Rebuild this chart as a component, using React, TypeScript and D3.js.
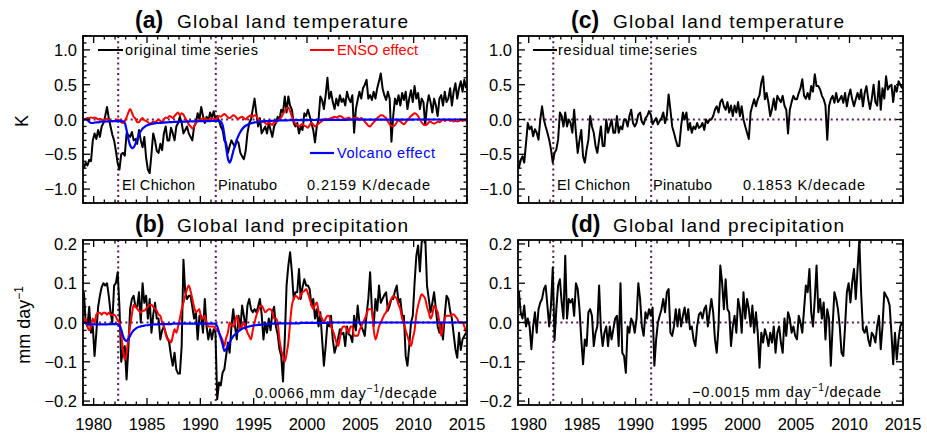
import React from "react";
import * as d3 from "d3";

// monthly-ish samples: 6 per year, 1979..2014
const startYear = 1979;
const perYear = 6;

// (a) original land temperature anomaly, K
const tempOrig = [
  -0.70, -0.62, -0.66, -0.58, -0.60, -0.30,
  -0.20, -0.28, -0.15, -0.25, -0.10, -0.05,
  0.05, 0.18, 0.02, -0.10, -0.22, -0.30,
  -0.45, -0.63, -0.72, -0.50, -0.48, -0.52,
  -0.20, -0.22, -0.25, -0.18, -0.30, -0.28,
  -0.35, -0.15, -0.30, -0.40, -0.25, -0.55,
  -0.72, -0.77, -0.50, -0.20, -0.30, -0.45,
  -0.48, -0.35, -0.44, -0.20, -0.10, -0.30,
  -0.30, -0.12, -0.20, -0.30, -0.10, -0.05,
  0.04, -0.05, -0.20, -0.15, -0.10, -0.20,
  -0.25, -0.30, -0.10, -0.05, 0.09, 0.00,
  0.18, 0.05, -0.05, 0.04, -0.02, 0.10,
  0.02, 0.12, 0.00, 0.05, -0.02, -0.10,
  -0.15, -0.30, -0.34, -0.48, -0.38, -0.30,
  -0.35, -0.39, -0.30, -0.34, -0.48, -0.53,
  -0.57, -0.45, -0.20, -0.05, 0.00, 0.15,
  0.30, 0.09, -0.10, 0.02, -0.20, -0.15,
  -0.10, -0.20, -0.05, -0.15, -0.25, -0.10,
  -0.05, 0.04, 0.00, 0.14, 0.10, 0.33,
  0.10, 0.33, 0.20, 0.14, -0.05, -0.10,
  -0.05, -0.20, -0.10, -0.15, 0.09, 0.05,
  0.14, 0.05, -0.05, -0.15, -0.33, -0.10,
  0.00, 0.33, 0.28, 0.15, 0.35, 0.60,
  0.30, 0.40, 0.25, 0.15, 0.30, 0.20,
  0.35, 0.25, 0.30, 0.20, 0.40, 0.30,
  0.25, 0.35, -0.19, 0.15, 0.28, 0.40,
  0.30, 0.45, 0.50, 0.57, 0.30, 0.35,
  0.28, 0.40, 0.30, 0.45, 0.55, 0.66,
  0.45, 0.35, 0.28, 0.40, 0.30, -0.32,
  0.05, 0.30, 0.22, 0.35, 0.20, 0.38,
  0.28, 0.40, 0.15, 0.30, 0.42, 0.25,
  0.48, 0.30, 0.38, 0.15, 0.30, 0.25,
  -0.08, 0.20, 0.35, 0.25, 0.10, 0.30,
  0.20, 0.05, 0.30, 0.35, 0.20, 0.40,
  0.25, 0.30, 0.45, 0.20, 0.40, 0.52,
  0.30, 0.45, 0.55, 0.40, 0.57, 0.45,
];

// (a) ENSO effect on temperature
const tempEnso = [
  0.00, 0.01, 0.02, 0.02, 0.03, 0.02,
  0.03, 0.02, 0.00, 0.01, 0.00, -0.01,
  0.00, 0.01, 0.00, -0.02, -0.03, -0.02,
  -0.02, 0.00, -0.01, -0.04, -0.05, -0.02,
  0.03, 0.10, 0.15, 0.10, 0.04, 0.01,
  -0.04, -0.04, 0.00, 0.02, -0.01, -0.02,
  -0.04, -0.06, -0.05, -0.03, -0.04, -0.02,
  0.00, -0.02, -0.04, 0.00, 0.03, 0.02,
  0.05, 0.04, 0.02, 0.05, 0.08, 0.10,
  0.06, 0.09, 0.07, 0.02, -0.02, -0.07,
  -0.10, -0.13, -0.10, -0.05, -0.03, -0.01,
  0.00, 0.02, 0.01, 0.00, -0.01, 0.01,
  0.02, 0.01, 0.00, 0.02, 0.05, 0.04,
  0.06, 0.08, 0.06, 0.03, 0.02, 0.04,
  0.06, 0.05, 0.02, 0.01, 0.03, 0.04,
  0.02, 0.00, 0.03, 0.05, 0.06, 0.04,
  0.06, 0.05, 0.01, -0.02, -0.04, -0.02,
  -0.05, -0.07, -0.04, -0.06, -0.08, -0.03,
  -0.04, -0.02, 0.00, 0.03, 0.08, 0.12,
  0.16, 0.17, 0.12, 0.04, -0.02, -0.06,
  -0.08, -0.10, -0.08, -0.06, -0.09, -0.10,
  -0.12, -0.08, -0.05, -0.07, -0.10, -0.08,
  -0.06, -0.04, -0.02, 0.00, 0.01, 0.00,
  0.01, 0.02, 0.03, 0.04, 0.03, 0.04,
  0.05, 0.04, 0.02, 0.01, 0.02, 0.03,
  0.01, 0.00, 0.02, 0.03, 0.02, 0.00,
  0.02, 0.00, -0.03, -0.06, -0.09, -0.10,
  -0.07, -0.04, -0.01, 0.02, 0.04, 0.06,
  0.06, 0.04, 0.02, -0.03, -0.07, -0.09,
  -0.10, -0.08, -0.04, -0.01, -0.03, -0.05,
  -0.07, -0.04, -0.01, 0.02, 0.05, 0.07,
  0.09, 0.08, 0.05, 0.00, -0.04, -0.07,
  -0.08, -0.07, -0.04, -0.03, -0.05, -0.06,
  -0.05, -0.03, -0.04, -0.02, 0.00, -0.02,
  -0.01, 0.00, -0.02, -0.01, -0.03, -0.02,
  -0.03, -0.02, -0.01, -0.02, -0.01, -0.02,
];

// (a) volcanic effect on temperature
const tempVolc = [
  0.00, 0.00, -0.01, -0.03, -0.05, -0.05,
  -0.045, -0.04, -0.04, -0.035, -0.03, -0.03,
  -0.03, -0.028, -0.026, -0.025, -0.024, -0.023,
  -0.022, -0.022, -0.022, -0.022, -0.025, -0.05,
  -0.15, -0.28, -0.37, -0.41, -0.40, -0.35,
  -0.28, -0.22, -0.17, -0.13, -0.11, -0.09,
  -0.08, -0.07, -0.065, -0.06, -0.055, -0.05,
  -0.05, -0.048, -0.046, -0.044, -0.042, -0.04,
  -0.039, -0.038, -0.036, -0.035, -0.034, -0.033,
  -0.032, -0.031, -0.03, -0.03, -0.029, -0.028,
  -0.028, -0.027, -0.026, -0.026, -0.025, -0.025,
  -0.024, -0.024, -0.023, -0.023, -0.022, -0.022,
  -0.021, -0.021, -0.02, -0.02, -0.02, -0.03,
  -0.08, -0.22, -0.40, -0.56, -0.62, -0.56,
  -0.46, -0.37, -0.29, -0.23, -0.18, -0.14,
  -0.11, -0.09, -0.075, -0.065, -0.055, -0.048,
  -0.042, -0.038, -0.034, -0.031, -0.028, -0.026,
  -0.024, -0.022, -0.02, -0.019, -0.018, -0.017,
  -0.016, -0.015, -0.014, -0.013, -0.013, -0.012,
  -0.012, -0.011, -0.011, -0.01, -0.01, -0.01,
  -0.009, -0.009, -0.009, -0.008, -0.008, -0.008,
  -0.008, -0.007, -0.007, -0.007, -0.007, -0.006,
  -0.006, -0.006, -0.006, -0.006, -0.005, -0.005,
  -0.005, -0.005, -0.005, -0.005, -0.004, -0.004,
  -0.004, -0.004, -0.004, -0.004, -0.004, -0.003,
  -0.003, -0.003, -0.003, -0.003, -0.003, -0.003,
  -0.003, -0.003, -0.002, -0.002, -0.002, -0.002,
  -0.002, -0.002, -0.002, -0.002, -0.002, -0.002,
  -0.002, -0.002, -0.001, -0.001, -0.001, -0.001,
  -0.001, -0.001, -0.001, -0.001, -0.001, -0.001,
  -0.001, -0.001, -0.001, -0.001, -0.001, -0.001,
  0.000, 0.000, 0.000, 0.000, 0.000, 0.000,
  0.000, 0.000, 0.000, 0.000, 0.000, 0.000,
  0.000, 0.000, 0.000, 0.000, 0.000, 0.000,
  0.000, 0.000, 0.000, 0.000, 0.000, 0.000,
  0.000, 0.000, 0.000, 0.000, 0.000, 0.000,
];

// (c) residual land temperature
const tempResid = [
  -0.70, -0.58, -0.53, -0.62, -0.34, -0.05,
  -0.14, -0.10, -0.24, -0.14, -0.19, -0.29,
  0.00, 0.19, 0.00, -0.10, -0.19, -0.29,
  -0.43, -0.62, -0.48, -0.43, -0.29, 0.10,
  0.05, -0.10, 0.10, -0.10, 0.00, -0.05,
  -0.19, 0.14, -0.19, -0.48, -0.30, -0.15,
  -0.53, -0.62, -0.43, -0.29, 0.05, -0.10,
  -0.19, -0.38, -0.48, -0.29, -0.10, -0.38,
  -0.38, 0.00, -0.19, -0.10, 0.00, -0.19,
  -0.19, 0.05, -0.19, -0.10, -0.14, 0.00,
  0.00, -0.10, 0.05, 0.14, -0.05, -0.10,
  -0.05, 0.07, 0.10, -0.03, -0.07, 0.02,
  0.05, 0.12, 0.07, -0.07, -0.02, 0.02,
  -0.07, -0.02, 0.02, 0.10, -0.05, 0.05,
  0.36, 0.14, -0.10, -0.19, -0.29, -0.38,
  -0.38, -0.10, 0.10, 0.00, 0.10, -0.15,
  -0.05, -0.19, -0.10, -0.14, -0.05, -0.12,
  -0.10, -0.05, -0.15, 0.00, -0.05, 0.00,
  0.00, 0.05, 0.14, 0.19, 0.10, 0.25,
  0.29, 0.19, 0.14, 0.25, 0.10, 0.20,
  0.05, 0.20, 0.10, 0.25, 0.05, 0.19,
  0.00, -0.10, -0.19, -0.28, 0.10, 0.20,
  0.29, 0.19, 0.29, 0.35, 0.53, 0.62,
  0.29, 0.38, 0.24, 0.05, 0.15, 0.30,
  0.14, 0.34, 0.29, 0.25, 0.34, 0.20,
  0.14, -0.20, 0.14, 0.25, 0.34, 0.29,
  0.29, 0.38, 0.45, 0.58, 0.34, 0.30,
  0.38, 0.29, 0.48, 0.40, 0.65, 0.48,
  0.48, 0.43, 0.34, 0.29, 0.20, -0.29,
  0.19, 0.29, 0.34, 0.24, 0.38, 0.25,
  0.29, 0.34, 0.24, 0.38, 0.19, 0.34,
  0.43, 0.29, 0.19, 0.29, 0.38, 0.29,
  0.43, 0.19, 0.38, 0.48, 0.29, 0.15,
  0.30, 0.50, 0.25, 0.20, 0.55, 0.14,
  0.45, 0.30, 0.62, 0.43, 0.48, 0.50,
  0.25, 0.48, 0.40, 0.55, 0.50, 0.45,
];

// (b) original land precipitation anomaly, mm/day
const precOrig = [
  0.077, 0.000, -0.010, 0.040, -0.026, -0.010,
  -0.085, -0.026, 0.040, 0.068, 0.090, 0.100,
  0.094, 0.100, 0.068, 0.026, 0.000, 0.094,
  0.100, 0.128, 0.040, -0.100, -0.068, -0.060,
  -0.145, -0.068, 0.034, 0.060, 0.068, 0.040,
  0.040, 0.077, 0.000, 0.100, 0.050, 0.068,
  0.010, 0.060, -0.026, 0.020, 0.050, 0.010,
  0.010, -0.043, -0.020, -0.010, -0.026, -0.040,
  -0.051, -0.085, -0.110, -0.077, -0.120, -0.130,
  -0.130, -0.060, 0.160, 0.077, 0.060, 0.068,
  0.068, 0.040, 0.010, 0.026, -0.043, 0.017,
  0.017, -0.026, 0.060, -0.010, -0.043, -0.017,
  -0.043, -0.017, -0.026, -0.195, -0.153, -0.160,
  -0.128, -0.119, -0.085, -0.051, -0.077, -0.010,
  0.034, -0.010, -0.043, 0.017, -0.017, 0.043,
  0.017, -0.017, 0.043, 0.060, 0.034, 0.026,
  0.034, 0.026, 0.040, 0.060, 0.020, -0.043,
  0.000, -0.026, 0.010, -0.020, 0.026, 0.040,
  -0.010, -0.030, -0.068, -0.085, -0.150, -0.043,
  0.094, 0.145, 0.179, 0.128, 0.060, 0.077,
  0.077, 0.136, 0.060, 0.090, 0.110, 0.094,
  0.094, 0.085, 0.043, 0.060, 0.010, 0.034,
  -0.010, 0.026, -0.043, -0.110, -0.060, 0.000,
  -0.010, 0.017, -0.043, -0.077, -0.060, -0.040,
  -0.017, -0.030, -0.026, -0.060, -0.010, -0.030,
  -0.034, -0.050, 0.017, -0.020, 0.043, 0.000,
  -0.010, -0.020, -0.034, 0.020, 0.060, 0.128,
  0.034, -0.010, 0.060, 0.030, 0.094, 0.050,
  0.060, 0.070, 0.077, 0.030, 0.043, 0.060,
  0.060, 0.080, 0.094, 0.050, 0.060, 0.017,
  0.017, -0.085, -0.110, -0.060, 0.000, 0.017,
  0.100, 0.170, 0.196, 0.130, 0.204, 0.215,
  0.220, 0.094, 0.060, 0.026, 0.050, 0.077,
  0.034, -0.010, -0.026, 0.000, -0.043, 0.020,
  0.068, 0.060, 0.030, 0.010, -0.030, -0.068,
  -0.090, -0.026, -0.070, -0.043, -0.034, -0.026,
];

// (b) ENSO effect on precipitation
const precEnso = [
  0.000, 0.010, -0.010, -0.020, -0.010, 0.010,
  0.000, 0.020, 0.025, 0.025, 0.020, 0.025,
  0.025, 0.020, 0.025, 0.020, 0.020, 0.020,
  0.015, 0.005, 0.000, -0.030, -0.070, -0.095,
  -0.080, -0.040, -0.010, 0.020, 0.045, 0.040,
  0.035, 0.030, 0.025, 0.030, 0.030, 0.035,
  0.040, 0.045, 0.045, 0.040, 0.034, 0.030,
  0.020, 0.017, 0.000, -0.010, -0.030, -0.043,
  -0.045, -0.051, -0.035, -0.017, -0.026, -0.010,
  0.010, 0.034, 0.050, 0.068, 0.085, 0.094,
  0.080, 0.060, 0.040, 0.026, 0.030, 0.034,
  0.010, 0.010, 0.017, 0.000, -0.010, -0.010,
  -0.010, -0.010, -0.015, -0.020, -0.026, -0.035,
  -0.045, -0.060, -0.040, -0.026, 0.000, -0.005,
  -0.010, 0.000, 0.017, 0.000, -0.017, -0.010,
  0.000, -0.010, -0.026, -0.035, -0.043, -0.020,
  0.000, 0.017, 0.030, 0.040, 0.043, 0.035,
  0.026, 0.030, 0.034, 0.034, 0.025, 0.010,
  0.010, 0.000, -0.043, -0.070, -0.085, -0.100,
  -0.080, -0.051, 0.000, 0.043, 0.060, 0.068,
  0.065, 0.060, 0.070, 0.077, 0.080, 0.085,
  0.075, 0.060, 0.045, 0.034, 0.045, 0.051,
  0.030, 0.017, 0.010, 0.000, 0.010, 0.017,
  0.017, -0.010, -0.020, -0.034, -0.050, -0.060,
  -0.040, -0.017, -0.010, -0.010, -0.020, -0.026,
  -0.010, -0.010, -0.034, -0.034, -0.034, -0.020,
  -0.010, 0.000, 0.010, 0.020, 0.034, 0.034,
  0.034, -0.017, -0.043, -0.030, -0.010, 0.000,
  0.010, 0.020, 0.026, 0.040, 0.051, 0.060,
  0.068, 0.065, 0.060, 0.045, 0.034, 0.010,
  0.000, -0.020, -0.034, -0.050, -0.060, -0.040,
  -0.020, 0.020, 0.043, 0.060, 0.072, 0.068,
  0.060, 0.040, 0.026, 0.010, 0.020, 0.043,
  0.035, 0.026, 0.000, -0.034, -0.010, 0.010,
  0.017, 0.017, 0.017, 0.020, 0.021, 0.015,
  0.010, 0.000, 0.000, 0.000, -0.010, -0.026,
];

// (b) volcanic effect on precipitation
const precVolc = [
  0.000, -0.002, -0.004, -0.005, -0.005, -0.005,
  -0.005, -0.005, -0.005, -0.005, -0.005, -0.005,
  -0.005, -0.005, -0.004, -0.004, -0.004, -0.004,
  -0.004, -0.004, -0.008, -0.018, -0.034, -0.044,
  -0.047, -0.042, -0.034, -0.026, -0.020, -0.016,
  -0.013, -0.011, -0.010, -0.009, -0.008, -0.007,
  -0.007, -0.006, -0.006, -0.005, -0.005, -0.005,
  -0.005, -0.004, -0.004, -0.004, -0.004, -0.004,
  -0.004, -0.004, -0.003, -0.003, -0.003, -0.003,
  -0.003, -0.003, -0.003, -0.003, -0.003, -0.003,
  -0.003, -0.003, -0.003, -0.003, -0.003, -0.003,
  -0.003, -0.003, -0.003, -0.003, -0.003, -0.003,
  -0.003, -0.003, -0.003, -0.010, -0.025, -0.040,
  -0.055, -0.072, -0.068, -0.060, -0.051, -0.042,
  -0.035, -0.030, -0.026, -0.022, -0.019, -0.016,
  -0.014, -0.013, -0.011, -0.010, -0.009, -0.008,
  -0.007, -0.007, -0.006, -0.006, -0.005, -0.005,
  -0.004, -0.004, -0.004, -0.003, -0.003, -0.003,
  -0.003, -0.003, -0.002, -0.002, -0.002, -0.002,
  -0.002, -0.002, -0.002, -0.002, -0.002, -0.002,
  -0.002, -0.002, -0.001, -0.001, -0.001, -0.001,
  -0.001, -0.001, -0.001, -0.001, -0.001, -0.001,
  -0.001, -0.001, -0.001, -0.001, -0.001, -0.001,
  0.000, 0.000, 0.000, 0.000, 0.000, 0.000,
  0.000, 0.000, 0.000, 0.000, 0.000, 0.000,
  0.000, 0.000, 0.000, 0.000, 0.000, 0.000,
  0.000, 0.000, 0.000, 0.000, 0.000, 0.000,
  0.000, 0.000, 0.000, 0.000, 0.000, 0.000,
  0.000, 0.000, 0.000, 0.000, 0.000, 0.000,
  0.000, 0.000, 0.000, 0.000, 0.000, 0.000,
  0.000, 0.000, 0.000, 0.000, 0.000, 0.000,
  0.000, 0.000, 0.000, 0.000, 0.000, 0.000,
  0.000, 0.000, 0.000, 0.000, 0.000, 0.000,
  0.000, 0.000, 0.000, 0.000, 0.000, 0.000,
  0.000, 0.000, 0.000, 0.000, 0.000, 0.000,
  0.000, 0.000, 0.000, 0.000, 0.000, 0.000,
];

// (d) residual land precipitation
const precResid = [
  0.080, 0.026, 0.010, 0.043, -0.010, 0.010,
  -0.010, -0.068, -0.010, 0.026, -0.026, 0.034,
  0.051, 0.060, 0.085, 0.094, 0.043, -0.010,
  0.043, 0.140, -0.045, 0.034, 0.094, 0.110,
  0.051, 0.010, 0.170, 0.010, 0.060, 0.051,
  0.060, 0.017, 0.100, 0.085, 0.034, -0.043,
  -0.106, -0.043, -0.060, 0.026, 0.034, 0.017,
  -0.060, -0.026, -0.010, 0.094, -0.017, -0.060,
  -0.026, -0.010, -0.060, -0.010, -0.043, -0.017,
  0.010, 0.017, -0.060, 0.100, -0.077, -0.085,
  -0.128, -0.010, -0.026, 0.010, 0.000, -0.026,
  0.010, 0.100, 0.060, -0.010, -0.034, 0.026,
  0.010, 0.034, 0.017, 0.038, -0.110, -0.043,
  0.000, 0.017, 0.034, 0.060, 0.026, 0.077,
  0.085, -0.026, -0.034, -0.010, 0.034, -0.010,
  0.034, -0.010, 0.017, 0.038, 0.000, 0.034,
  -0.017, -0.010, -0.043, -0.060, -0.010, 0.020,
  0.026, 0.010, 0.034, 0.043, -0.010, 0.026,
  0.060, 0.026, -0.043, -0.077, -0.010, 0.145,
  0.102, 0.034, 0.110, 0.034, 0.026, -0.060,
  -0.010, 0.017, -0.026, 0.060, 0.034, -0.026,
  0.077, 0.010, 0.060, 0.034, -0.010, 0.043,
  -0.026, 0.026, -0.026, -0.115, -0.026, -0.051,
  -0.017, -0.034, -0.060, -0.026, -0.051, -0.010,
  -0.077, -0.026, -0.010, -0.051, -0.077, 0.010,
  -0.034, 0.026, 0.010, -0.026, -0.010, -0.034,
  -0.043, 0.017, 0.000, -0.026, 0.034, 0.094,
  0.077, 0.136, 0.026, -0.010, 0.060, 0.145,
  0.026, 0.060, 0.010, 0.051, -0.043, 0.034,
  0.010, -0.110, -0.010, 0.077, 0.060, 0.034,
  -0.010, -0.077, -0.085, -0.010, 0.077, 0.100,
  0.051, 0.102, 0.136, 0.060, 0.136, 0.210,
  0.077, -0.017, -0.026, -0.010, -0.043, -0.060,
  -0.026, -0.034, -0.051, -0.010, 0.017, -0.068,
  -0.010, 0.077, 0.068, 0.060, 0.043, -0.026,
  -0.106, -0.026, -0.094, -0.043, -0.010, 0.000,
];

const yearTicks = [1980, 1985, 1990, 1995, 2000, 2005, 2010, 2015];
const tempTicks = [-1.0, -0.5, 0.0, 0.5, 1.0];
const precTicks = [-0.2, -0.1, 0.0, 0.1, 0.2];
const eruptions = [1982.3, 1991.45];

const times = tempOrig.map((_, i) => startYear + (i + 0.5) / perYear);

const FONT = "'Liberation Sans', Arial, sans-serif";
const PURPLE = "#5a1a5a";

const minus = (s: string) => s.replace("-", "\u2212");

type Series = { values: number[]; color: string; width: number; smooth?: boolean };

function Panel({
  id, left, right, top, bottom, domain, major, minorStep, digits, series, showYears,
}: {
  id: string; left: number; right: number; top: number; bottom: number;
  domain: [number, number]; major: number[]; minorStep: number; digits: number;
  series: Series[]; showYears: boolean;
}) {
  const xs = d3.scaleLinear().domain([1979, 2015]).range([left, right]);
  const ys = d3.scaleLinear().domain(domain).range([bottom, top]);
  const minorYears = d3.range(1979, 2016);
  const nMinor = Math.floor(domain[1] / minorStep + 1e-6);
  const minorY = d3.range(-nMinor, nMinor + 1).map((k) => k * minorStep);

  const mkLine = (smooth?: boolean) =>
    d3
      .line<number>()
      .x((_, i) => xs(times[i]))
      .y((d) => ys(d))
      .curve(smooth ? d3.curveMonotoneX : d3.curveLinear);

  return (
    <g>
      <defs>
        <clipPath id={id}>
          <rect x={left} y={top} width={right - left} height={bottom - top} />
        </clipPath>
      </defs>
      <g clipPath={`url(#${id})`}>
        <line x1={left} x2={right} y1={ys(0)} y2={ys(0)} stroke={PURPLE} strokeWidth={2} strokeDasharray="2 3.3" />
        {eruptions.map((e) => (
          <line key={e} x1={xs(e)} x2={xs(e)} y1={top} y2={bottom} stroke={PURPLE} strokeWidth={2} strokeDasharray="2 3.3" />
        ))}
        {series.map((s, k) => (
          <path key={k} d={mkLine(s.smooth)(s.values) || ""} fill="none" stroke={s.color} strokeWidth={s.width} strokeLinejoin="round" />
        ))}
      </g>
      <rect x={left} y={top} width={right - left} height={bottom - top} fill="none" stroke="#000" strokeWidth={1.8} />
      {/* x ticks, top and bottom */}
      {minorYears.map((yr) => {
        const len = yearTicks.includes(yr) ? 7 : 3.5;
        const x = xs(yr);
        return (
          <g key={yr} stroke="#000" strokeWidth={1.3}>
            <line x1={x} x2={x} y1={bottom} y2={bottom - len} />
            <line x1={x} x2={x} y1={top} y2={top + len} />
          </g>
        );
      })}
      {/* y ticks, left and right */}
      {minorY.map((v, k) => {
        const isMajor = major.some((m) => Math.abs(m - v) < 1e-6);
        const len = isMajor ? 7 : 3.5;
        const y = ys(v);
        return (
          <g key={k} stroke="#000" strokeWidth={1.3}>
            <line x1={left} x2={left + len} y1={y} y2={y} />
            <line x1={right} x2={right - len} y1={y} y2={y} />
          </g>
        );
      })}
      {major.map((v) => (
        <text key={v} x={left - 6} y={ys(v) + 6} textAnchor="end" fontSize={16.5} fontFamily={FONT}>
          {minus(v.toFixed(digits))}
        </text>
      ))}
      {showYears &&
        yearTicks.map((yr) => (
          <text key={yr} x={xs(yr)} y={430} textAnchor="middle" fontSize={16.5} fontFamily={FONT}>
            {yr}
          </text>
        ))}
    </g>
  );
}

function Title({ x, y, letter, text }: { x: number; y: number; letter: string; text: string }) {
  return (
    <g fontFamily={FONT}>
      <text x={x} y={y} fontSize={23} fontWeight="bold">{letter}</text>
      <text x={x + 42} y={y} fontSize={19} textLength={231} lengthAdjust="spacing">{text}</text>
    </g>
  );
}

export default function App() {
  const L = { left: 83, right: 467 };
  const R = { left: 518, right: 903 };
  const T = { top: 36, bottom: 203 };
  const B = { top: 240, bottom: 405 };
  const txt = { fontFamily: FONT, fontSize: 14.5 } as const;

  return (
    <svg width={927} height={435} style={{ position: "absolute", left: 0, top: 0, background: "#fff" }}>
      <Panel id="pa" {...L} {...T} domain={[-1.2, 1.2]} major={tempTicks} minorStep={0.1} digits={1} showYears={false}
        series={[
          { values: tempOrig, color: "#000", width: 2 },
          { values: tempEnso, color: "#ff0000", width: 2, smooth: true },
          { values: tempVolc, color: "#0000ff", width: 2.2, smooth: true },
        ]} />
      <Panel id="pc" {...R} {...T} domain={[-1.2, 1.2]} major={tempTicks} minorStep={0.1} digits={1} showYears={false}
        series={[{ values: tempResid, color: "#000", width: 2 }]} />
      <Panel id="pb" {...L} {...B} domain={[-0.21, 0.21]} major={precTicks} minorStep={0.02} digits={1} showYears={true}
        series={[
          { values: precOrig, color: "#000", width: 2 },
          { values: precEnso, color: "#ff0000", width: 2, smooth: true },
          { values: precVolc, color: "#0000ff", width: 2.2, smooth: true },
        ]} />
      <Panel id="pd" {...R} {...B} domain={[-0.21, 0.21]} major={precTicks} minorStep={0.02} digits={1} showYears={true}
        series={[{ values: precResid, color: "#000", width: 2 }]} />

      <Title x={135} y={28} letter="(a)" text="Global land temperature" />
      <Title x={571} y={28} letter="(c)" text="Global land temperature" />
      <Title x={135} y={232} letter="(b)" text="Global land precipitation" />
      <Title x={571} y={232} letter="(d)" text="Global land precipitation" />

      <text transform="translate(28,121) rotate(-90)" textAnchor="middle" fontFamily={FONT} fontSize={18}>K</text>
      <text transform="translate(30,325) rotate(-90)" textAnchor="middle" fontFamily={FONT} fontSize={18}>
        mm day<tspan dy={-7} fontSize={12}>{"\u22121"}</tspan>
      </text>

      {/* panel (a) legend and notes */}
      <line x1={98} x2={123} y1={50} y2={50} stroke="#000" strokeWidth={2} />
      <text x={125} y={55} {...txt} textLength={133}>original time series</text>
      <line x1={310} x2={334} y1={50} y2={50} stroke="#ff0000" strokeWidth={2} />
      <text x={337} y={55} {...txt} fill="#ff0000" textLength={81}>ENSO effect</text>
      <line x1={310} x2={334} y1={153} y2={153} stroke="#0000ff" strokeWidth={2.2} />
      <text x={337} y={158} {...txt} fill="#0000ff" textLength={98}>Volcano effect</text>
      <text x={122} y={190} {...txt} textLength={73}>El Chichon</text>
      <text x={218} y={190} {...txt} textLength={59}>Pinatubo</text>
      <text x={307} y={190} {...txt} textLength={123}>0.2159 K/decade</text>

      {/* panel (c) */}
      <line x1={533} x2={557} y1={50} y2={50} stroke="#000" strokeWidth={2} />
      <text x={558} y={55} {...txt} textLength={139}>residual time series</text>
      <text x={557} y={190} {...txt} textLength={73}>El Chichon</text>
      <text x={653} y={190} {...txt} textLength={59}>Pinatubo</text>
      <text x={743} y={190} {...txt} textLength={122}>0.1853 K/decade</text>

      {/* panel (b) and (d) trends */}
      <text x={255} y={398} {...txt} letterSpacing={0.9}>
        0.0066 mm day<tspan dy={-6} fontSize={10}>{"\u22121"}</tspan><tspan dy={6}>/decade</tspan>
      </text>
      <text x={692} y={397} {...txt} letterSpacing={0.8}>
        {"\u22120.0015 mm day"}<tspan dy={-6} fontSize={10}>{"\u22121"}</tspan><tspan dy={6}>/decade</tspan>
      </text>
    </svg>
  );
}
